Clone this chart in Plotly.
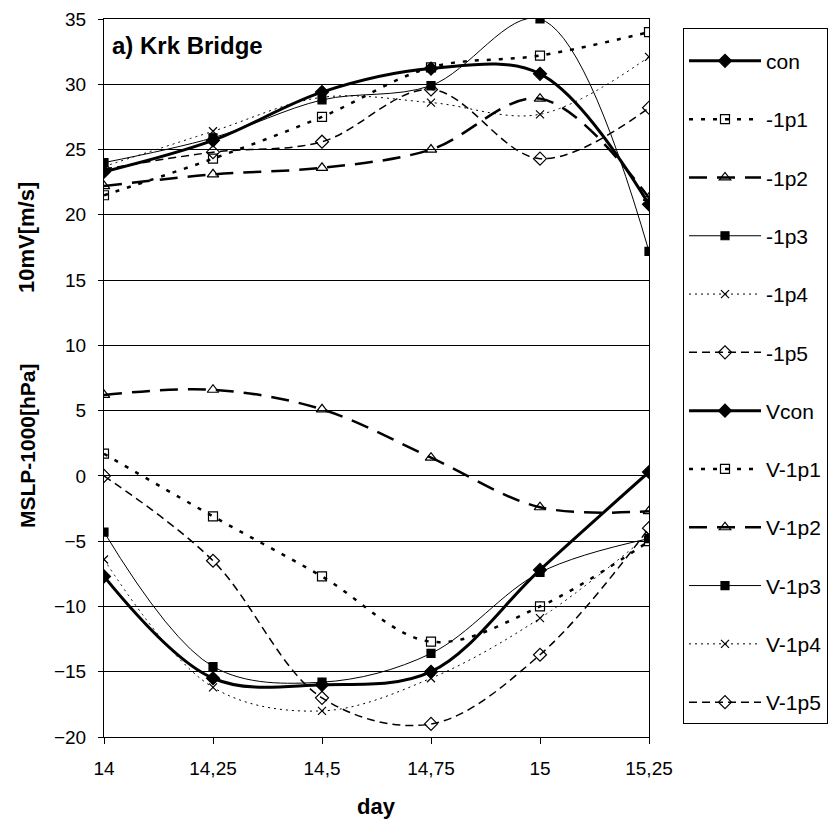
import plotly.graph_objects as go

# ---- data ----
days = [14, 14.25, 14.5, 14.75, 15, 15.25]
day_labels = ["14", "14,25", "14,5", "14,75", "15", "15,25"]
y_ticks = [-20, -15, -10, -5, 0, 5, 10, 15, 20, 25, 30, 35]

# MSLP-1000 [hPa] series (lower group)
con = [-7.7, -15.5, -16.0, -15.0, -7.2, 0.3]
m1p1 = [1.7, -3.1, -7.7, -12.7, -10.0, -5.0]
m1p2 = [6.2, 6.6, 5.1, 1.4, -2.4, -2.7]
m1p3 = [-4.3, -14.6, -15.8, -13.6, -7.4, -4.8]
m1p4 = [-6.4, -16.2, -18.0, -15.5, -10.9, -4.5]
m1p5 = [0.0, -6.5, -17.0, -19.0, -13.7, -4.0]

# 10 m wind [m/s] series (upper group)
Vcon = [23.3, 25.7, 29.4, 31.2, 30.8, 20.8]
V1p1 = [21.5, 24.3, 27.5, 31.3, 32.2, 34.0]
V1p2 = [22.2, 23.1, 23.6, 25.0, 28.9, 21.3]
V1p3 = [24.0, 25.9, 28.8, 29.9, 35.0, 17.2]
V1p4 = [23.7, 26.4, 29.0, 28.6, 27.7, 32.1]
V1p5 = [23.5, 24.8, 25.6, 29.6, 24.3, 28.2]

names = ["con", "-1p1", "-1p2", "-1p3", "-1p4", "-1p5",
         "Vcon", "V-1p1", "V-1p2", "V-1p3", "V-1p4", "V-1p5"]
series = [con, m1p1, m1p2, m1p3, m1p4, m1p5,
          Vcon, V1p1, V1p2, V1p3, V1p4, V1p5]

# style per member (con, 1p1 .. 1p5)
styles = [
    dict(width=3, dash="solid", symbol="diamond", size=10),
    dict(width=2.5, dash="4px,8px", symbol="square-open", size=9),
    dict(width=2.5, dash="18px,10px", symbol="triangle-up-open", size=10),
    dict(width=1, dash="solid", symbol="square", size=8),
    dict(width=1, dash="2px,4px", symbol="x-thin-open", size=8),
    dict(width=1.5, dash="8px,5px", symbol="diamond-open", size=10),
]

FONT = "Liberation Sans, Arial, sans-serif"
OFF = 8  # page body margin
W, H = 838, 834
# target plot area in page pixels
PX0, PX1, PY0, PY1 = 104, 649, 19, 737
L, T = PX0 - OFF, PY0 - OFF
PW, PH = PX1 - PX0, PY1 - PY0
R, B = W - L - PW, H - T - PH


def px(xp):
    return (xp - PX0) / PW


def py(yp):
    return (PY1 - yp) / PH


fig = go.Figure()
for i, (nm, ys) in enumerate(zip(names, series)):
    st = styles[i % 6]
    fig.add_trace(go.Scatter(
        x=days, y=ys, name=nm, mode="lines+markers",
        legendgroup=nm,
        line=dict(color="black", width=st["width"], dash=st["dash"],
                  shape="spline", smoothing=1),
        marker=dict(symbol=st["symbol"], size=st["size"], color="black",
                    line=dict(color="black", width=1.2)),
    ))

fig.update_layout(
    width=W, height=H,
    margin=dict(l=L, r=R, t=T, b=B, autoexpand=False),
    paper_bgcolor="white", plot_bgcolor="white",
    font=dict(family=FONT, color="black", size=19),
    showlegend=True,
    legend=dict(
        x=px(683), y=py(28),
        xanchor="left", yanchor="top",
        bordercolor="black", borderwidth=1, bgcolor="white",
        font=dict(family=FONT, size=21, color="black"),
        itemwidth=72, tracegroupgap=28, traceorder="grouped",
        title=dict(text=" ", font=dict(size=9)),
    ),
    xaxis=dict(
        range=[14, 15.25], tickvals=days, ticktext=day_labels,
        showgrid=False, zeroline=False,
        showline=True, linecolor="black", linewidth=1, mirror=True,
        ticks="outside", ticklen=6, tickcolor="black",
        ticklabelstandoff=8,
        tickfont=dict(family=FONT, size=19),
    ),
    yaxis=dict(
        range=[-20, 35], tickvals=y_ticks,
        showgrid=True, gridcolor="black", gridwidth=1, zeroline=False,
        showline=True, linecolor="black", linewidth=1, mirror=True,
        ticks="outside", ticklen=5, tickcolor="black",
        ticklabelstandoff=8,
        tickfont=dict(family=FONT, size=19),
    ),
)

annots = [
    dict(text="<b>a) Krk Bridge</b>", x=px(110), y=py(46),
         xanchor="left", yanchor="middle", font=dict(size=24)),
    dict(text="<b>10mV[m/s]</b>", x=px(27), y=py(238),
         xanchor="center", yanchor="middle", textangle=-90, font=dict(size=22)),
    dict(text="<b>MSLP-1000[hPa]</b>", x=px(27), y=py(446),
         xanchor="center", yanchor="middle", textangle=-90, font=dict(size=21)),
    dict(text="<b>day</b>", x=px(376), y=py(806),
         xanchor="center", yanchor="middle", font=dict(size=22)),
]
for a in annots:
    fig.add_annotation(xref="paper", yref="paper", showarrow=False, **a)

fig.write_html("out.html")
